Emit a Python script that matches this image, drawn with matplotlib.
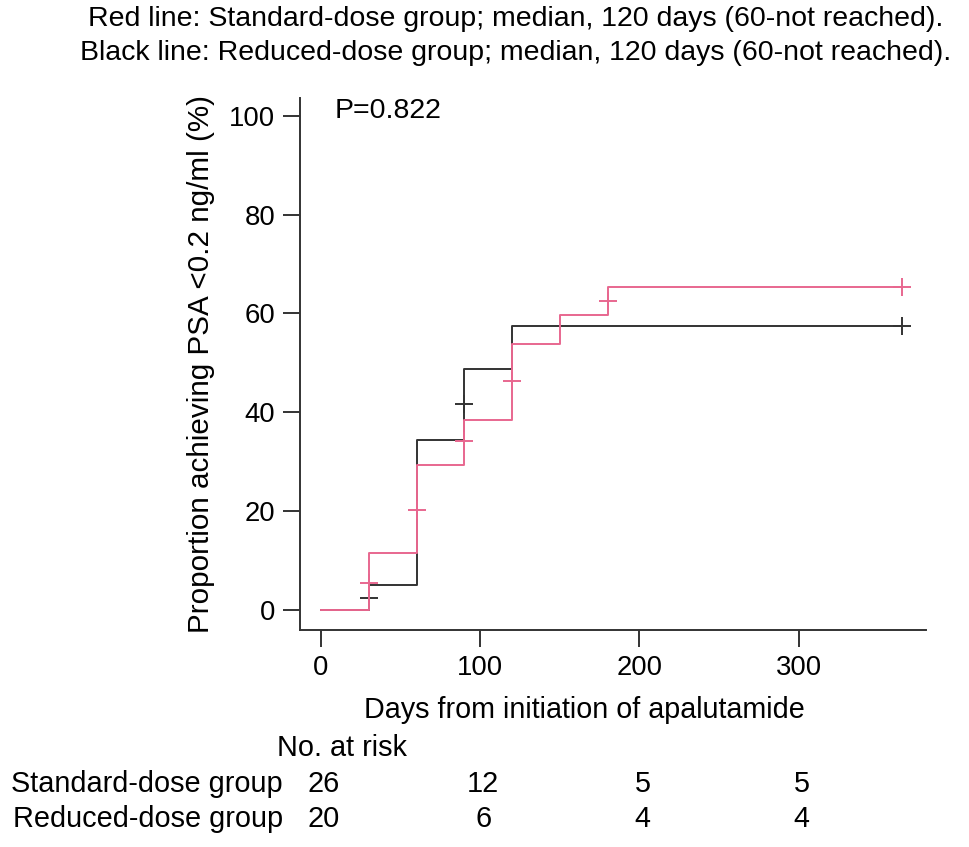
import numpy as np
import matplotlib
matplotlib.use("Agg")
import matplotlib.pyplot as plt

plt.rcParams['font.family'] = ['Liberation Sans', 'DejaVu Sans']

# Kaplan-Meier style step data (cumulative proportion, %)
std_days = [0, 30, 60, 90, 120, 150, 180, 365]
std_prop = [0, 11.5, 29.4, 38.5, 53.8, 59.6, 65.4, 65.4]
red_cens_days = [30, 60, 90, 120, 180, 365]
red_cens_prop = [5.5, 20.2, 34.2, 46.4, 62.6, 65.4]

red_days = [0, 30, 60, 90, 120, 365]
red_prop = [0, 5.0, 34.4, 48.8, 57.4, 57.4]
blk_cens_days = [30, 90, 365]
blk_cens_prop = [2.4, 41.6, 57.4]

xticks = [0, 100, 200, 300]
yticks = [0, 20, 40, 60, 80, 100]
risk_std = [26, 12, 5, 5]
risk_red = [20, 6, 4, 4]

red_col = '#e8678f'
blk_col = '#333333'

fig = plt.figure(figsize=(9.69, 8.47), dpi=100)
ax = fig.add_axes([0.3096, 0.2562, 0.6460, 0.6281])

# reduced-dose (black) underneath, standard-dose (red) on top
ax.step(red_days, red_prop, where='post', color=blk_col, lw=1.4)
ax.plot(blk_cens_days, blk_cens_prop, '+', color=blk_col, ms=13, mew=1.4)
ax.step(std_days, std_prop, where='post', color=red_col, lw=1.4)
ax.plot(red_cens_days, red_cens_prop, '+', color=red_col, ms=13, mew=1.4)

ax.set_xlim(-13.2, 380)
ax.set_ylim(-4.05, 103.6)
ax.set_xticks(xticks)
ax.set_yticks(yticks)
ax.tick_params(labelsize=19.8, length=12, width=1.4, color='#333333', pad=6)
for s in ['top', 'right']:
    ax.spines[s].set_visible(False)
for s in ['left', 'bottom']:
    ax.spines[s].set_linewidth(1.4)
    ax.spines[s].set_color('#333333')

ax.set_xlabel("Days from initiation of apalutamide", fontsize=20.7, labelpad=10)
ax.xaxis.set_label_coords(0.455, -0.125)
ax.set_ylabel("Proportion achieving PSA <0.2 ng/ml (%)", fontsize=21.3, labelpad=10)
ax.text(0.056, 0.975, "P=0.822", transform=ax.transAxes, fontsize=20.5, va='center')

fig.text(0.532, 0.978, "Red line: Standard-dose group; median, 120 days (60-not reached).",
         ha='center', va='center', fontsize=20.5)
fig.text(0.532, 0.938, "Black line: Reduced-dose group; median, 120 days (60-not reached).",
         ha='center', va='center', fontsize=20.5)

# number at risk table
fig.text(277 / 969, 1 - 748 / 847, "No. at risk", fontsize=20.8, va='center', ha='left')
fig.text(283 / 969, 1 - 784 / 847, "Standard-dose group", fontsize=20.8, va='center', ha='right')
fig.text(283 / 969, 1 - 819 / 847, "Reduced-dose group", fontsize=20.8, va='center', ha='right')
for d, a, b in zip(xticks, risk_std, risk_red):
    xf = fig.transFigure.inverted().transform(ax.transData.transform((d, 0)))[0]
    xf += 3 / 969
    fig.text(xf, 1 - 784 / 847, str(a), fontsize=20.8, va='center', ha='center')
    fig.text(xf, 1 - 819 / 847, str(b), fontsize=20.8, va='center', ha='center')

fig.savefig("out.png", dpi=100)
